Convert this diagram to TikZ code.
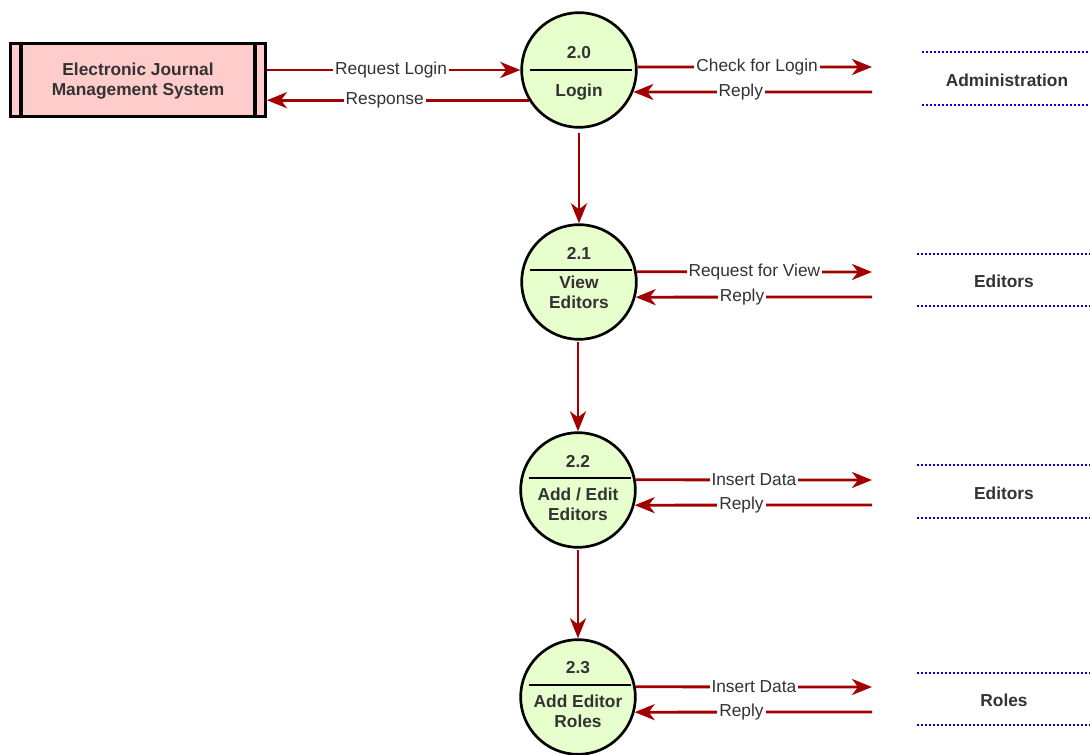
\documentclass[tikz,border=0pt]{standalone}
\usepackage{fontspec}
\setmainfont{Liberation Sans}
\usetikzlibrary{arrows.meta,calc}
\definecolor{flowred}{HTML}{A20000}
\definecolor{entfill}{HTML}{FFCCCC}
\definecolor{procfill}{HTML}{E6FFCC}
\definecolor{txt}{HTML}{333333}
\definecolor{storeblue}{HTML}{0000EE}
\begin{document}
\begin{tikzpicture}[x=0.75pt,y=-0.75pt,
  every node/.style={text=txt,font=\fontsize{13}{15}\selectfont},
  entity/.style={draw=black,line width=2.4pt,fill=entfill,minimum width=191pt,minimum height=55pt,
    inner sep=0pt,align=center,font=\fontsize{13}{15}\selectfont\bfseries},
  proc/.style={circle,draw=black,line width=2pt,fill=procfill,minimum size=86pt,inner sep=0pt},
  procnum/.style={font=\fontsize{13}{15}\selectfont\bfseries,inner sep=0pt},
  proctext/.style={font=\fontsize{13}{15}\selectfont\bfseries,align=center,inner sep=0pt},
  flow/.style={draw=flowred,line width=2.1pt,-{Stealth[length=15pt,width=12pt,inset=4.5pt]}},
  flowlabel/.style={fill=white,inner sep=1.5pt,pos=#1},
  store/.style={draw=storeblue,line width=1.6pt,dash pattern=on 1.6pt off 1.4pt},
  storelabel/.style={font=\fontsize{13}{15}\selectfont\bfseries}
]
\useasboundingbox (0,0) rectangle (1090,755);

% external entity
\node[entity] (ext) at (138,80) {};
\node[font=\fontsize{13}{15}\selectfont\bfseries,align=center] (extlabel) at (138,81.5) {Electronic Journal\\Management System};
\draw[line width=2.4pt] (21,42) -- (21,118) (255,42) -- (255,118);

% processes
\node[proc] (p0) at (579,70) {};
\node[proc] (p1) at (579,282) {};
\node[proc] (p2) at (578,490) {};
\node[proc] (p3) at (578,697) {};

\draw[line width=1.1pt] ($(p0)+(-49,0)$) -- ($(p0)+(53,0)$);
\draw[line width=1.1pt] ($(p1)+(-49,-12)$) -- ($(p1)+(53,-12)$);
\draw[line width=1.1pt] ($(p2)+(-49,-12)$) -- ($(p2)+(53,-12)$);
\draw[line width=1.1pt] ($(p3)+(-49,-12)$) -- ($(p3)+(53,-12)$);

\node[procnum] (n0) at (579,53) {2.0};
\node[proctext] (t0) at (579,92) {Login};
\node[procnum] (n1) at (579,253) {2.1};
\node[proctext] (t1) at (579,292) {View\\Editors};
\node[procnum] (n2) at (578,461) {2.2};
\node[proctext] (t2) at (578,504.5) {Add / Edit\\Editors};
\node[procnum] (n3) at (578,668) {2.3};
\node[proctext] (t3) at (578,711.5) {Add Editor\\Roles};

% data stores
\node[storelabel] (d0) at (1007,80) {Administration};
\node[storelabel] (d1) at (1004,281) {Editors};
\node[storelabel] (d2) at (1004,493) {Editors};
\node[storelabel] (d3) at (1004,700) {Roles};
\draw[store] (922,52) -- (1090,52) (922,105) -- (1090,105);
\draw[store] (917,254) -- (1090,254) (917,306) -- (1090,306);
\draw[store] (917,465) -- (1090,465) (917,518) -- (1090,518);
\draw[store] (917,673) -- (1090,673) (917,725) -- (1090,725);

% free ends of the store flows
\coordinate (a0) at (872,67);
\coordinate (b0) at (872,92);
\coordinate (a1) at (872,272);
\coordinate (b1) at (872,297);
\coordinate (a2) at (872,480);
\coordinate (b2) at (872,505);
\coordinate (a3) at (872,687);
\coordinate (b3) at (872,712);

% entity <-> login
\draw[flow] (ext.east |- p0.west) -- node[flowlabel=0.49] {Request Login} (p0.west);
\draw[flow] (p0.211) -- node[flowlabel=0.55] {Response} (ext.east |- p0.211);

% process <-> stores
\draw[flow] (p0.3) -- node[flowlabel=0.51] {Check for Login} (a0);
\draw[flow] (b0) -- node[flowlabel=0.55] {Reply} (p0.-22);
\draw[flow] (p1.10) -- node[flowlabel=0.5] {Request for View} (a1);
\draw[flow] (b1) -- node[flowlabel=0.55] {Reply} (p1.-15);
\draw[flow] (p2.10) -- node[flowlabel=0.5] {Insert Data} (a2);
\draw[flow] (b2) -- node[flowlabel=0.55] {Reply} (p2.-15);
\draw[flow] (p3.10) -- node[flowlabel=0.5] {Insert Data} (a3);
\draw[flow] (b3) -- node[flowlabel=0.55] {Reply} (p3.-15);

% process sequence
\draw[flow,shorten <=3pt] (p0.south) -- (p1.north);
\draw[flow,shorten <=1pt] (p1.south -| p2.north) -- (p2.north);
\draw[flow,shorten <=1pt] (p2.south) -- (p3.north);
\end{tikzpicture}
\end{document}
